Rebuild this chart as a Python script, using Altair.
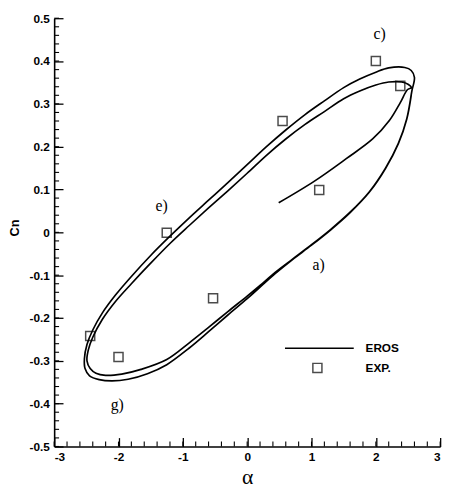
import altair as alt
import pandas as pd

# ---------------- data ----------------
# EROS computed curve, points in drawing order (alpha, Cn)
eros_alpha = [
    # start-up transient
    0.49, 1.04, 1.54, 1.95, 2.21, 2.38, 2.49, 2.55,
    # first cycle, upper branch (right -> left)
    2.50, 2.40, 2.20, 2.00, 1.75, 1.50, 1.20, 0.90, 0.60, 0.30, 0.00, -0.30, -0.60,
    -0.90, -1.20, -1.50, -1.80, -2.05, -2.25, -2.40, -2.47, -2.49,
    # first cycle, lower branch (left -> right)
    -2.44, -2.35, -2.20, -1.95, -1.65, -1.25, -0.90, -0.60, -0.30, 0.00, 0.20, 0.43,
    0.70, 1.00, 1.30, 1.60, 1.90, 2.15, 2.35, 2.48, 2.56,
    # second cycle, upper branch
    2.60, 2.55, 2.45, 2.20, 2.00, 1.75, 1.50, 1.20, 0.90, 0.60, 0.30, 0.00, -0.30,
    -0.60, -0.90, -1.20, -1.50, -1.80, -2.05, -2.25, -2.40, -2.49, -2.53,
    # second cycle, lower branch
    -2.52, -2.45, -2.30, -2.10, -1.85, -1.55, -1.25, -0.90, -0.60, -0.30, 0.00, 0.20,
    0.43, 0.70, 1.00, 1.30, 1.60, 1.90, 2.15, 2.35, 2.48, 2.55,
]
eros_cn = [
    0.069, 0.119, 0.172, 0.218, 0.261, 0.303, 0.333, 0.338,
    0.346, 0.351, 0.351, 0.344, 0.330, 0.312, 0.282, 0.252, 0.218, 0.180, 0.138, 0.097, 0.057,
    0.016, -0.026, -0.072, -0.120, -0.162, -0.203, -0.245, -0.275, -0.300,
    -0.318, -0.329, -0.334, -0.331, -0.320, -0.297, -0.258, -0.222, -0.185, -0.149, -0.124, -0.094,
    -0.063, -0.029, 0.007, 0.047, 0.095, 0.150, 0.208, 0.265, 0.330,
    0.362, 0.378, 0.385, 0.384, 0.374, 0.358, 0.338, 0.307, 0.275, 0.239, 0.200, 0.158, 0.116,
    0.075, 0.034, -0.009, -0.054, -0.103, -0.147, -0.188, -0.228, -0.262, -0.295,
    -0.318, -0.335, -0.344, -0.347, -0.343, -0.330, -0.309, -0.270, -0.232, -0.193, -0.155, -0.128,
    -0.097, -0.064, -0.030, 0.006, 0.046, 0.094, 0.149, 0.207, 0.264, 0.320,
]
# Experimental points
exp_alpha = [2.00, 2.38, 0.55, 1.12, -1.25, -0.53, -2.44, -2.00]
exp_cn = [0.400, 0.342, 0.260, 0.099, -0.001, -0.154, -0.242, -0.291]

# Annotation labels
ann_text = ["a)", "c)", "e)", "g)"]
ann_alpha = [1.11, 2.06, -1.33, -2.02]
ann_cn = [-0.076, 0.463, 0.062, -0.404]

# Axis ticks
x_major = [-3, -2, -1, 0, 1, 2, 3]
x_minor = [round(-3 + 0.2 * k, 1) for k in range(31)]
y_major = [-0.5, -0.4, -0.3, -0.2, -0.1, 0.0, 0.1, 0.2, 0.3, 0.4, 0.5]
y_minor = [round(-0.5 + 0.02 * k, 2) for k in range(51)]

# ---------------- chart ----------------
W, H = 393, 436
xs = alt.Scale(domain=[-3, 3], nice=False, zero=False)
ys = alt.Scale(domain=[-0.5, 0.5], nice=False, zero=False)

x_lab = "replace(format(datum.value, 'd'), '\u2212', '-')"
y_lab = "replace(format(datum.value, '.1~f'), '\u2212', '-')"

LABEL_FONT = dict(labelFont="Liberation Sans", labelFontSize=12, labelFontWeight="bold",
                  labelColor="black")

# main axes: domain line + labels + titles
X_MAIN = alt.Axis(
    orient="bottom", values=x_major, title="α", labelExpr=x_lab, ticks=False,
    domain=True, domainColor="black", domainWidth=1.6, labelPadding=5,
    titleFont="Liberation Serif", titleFontSize=22, titleFontWeight="normal",
    titleColor="black", titlePadding=5, grid=False, **LABEL_FONT,
)
Y_MAIN = alt.Axis(
    orient="left", values=y_major, title="Cn", labelExpr=y_lab, ticks=False,
    domain=True, domainColor="black", domainWidth=1.6, labelPadding=5,
    titleFont="Liberation Sans", titleFontSize=13, titleFontWeight="bold",
    titleColor="black", titleX=-40, titleY=213, titleBaseline="middle",
    grid=False, **LABEL_FONT,
)

def tick_axis(orient, vals, size):
    # inward major ticks: axis shifted into the plot by its tick length
    return alt.Axis(
        orient=orient, values=vals, offset=-size, tickSize=size, tickWidth=1.3,
        tickColor="black", labels=False, domain=False, title=None, grid=False,
    )

df_line = pd.DataFrame({"a": eros_alpha, "cn": eros_cn, "i": list(range(len(eros_alpha)))})
df_exp = pd.DataFrame({"a": exp_alpha, "cn": exp_cn})
df_ann = pd.DataFrame({"t": ann_text, "a": ann_alpha, "cn": ann_cn})

line = alt.Chart(df_line).mark_line(
    color="black", strokeWidth=1.7, interpolate="catmull-rom"
).encode(
    x=alt.X("a:Q", scale=xs, axis=X_MAIN),
    y=alt.Y("cn:Q", scale=ys, axis=Y_MAIN),
    order="i:Q",
)

# invisible carrier for the inward major tick axes
major_ticks = alt.Chart(df_exp).mark_point(opacity=0).encode(
    x=alt.X("a:Q", scale=xs, axis=tick_axis("bottom", x_major, 9)),
    y=alt.Y("cn:Q", scale=ys, axis=tick_axis("left", y_major, 9)),
)

# inward minor ticks drawn as short stroke symbols (path length = sqrt(size)/2 = 5 px)
minor_x = alt.Chart(pd.DataFrame({"v": x_minor})).mark_point(
    shape="M0,0L0,-1", size=100, filled=False, color="black", strokeWidth=1.1, opacity=1
).encode(
    x=alt.X("v:Q", scale=xs, axis=None),
    y=alt.value(H),
)
minor_y = alt.Chart(pd.DataFrame({"v": y_minor})).mark_point(
    shape="M0,0L1,0", size=100, filled=False, color="black", strokeWidth=1.1, opacity=1
).encode(
    y=alt.Y("v:Q", scale=ys, axis=None),
    x=alt.value(0),
)

pts = alt.Chart(df_exp).mark_square(
    filled=False, color="black", size=85, strokeWidth=1.5
).encode(
    x=alt.X("a:Q", scale=xs, axis=None),
    y=alt.Y("cn:Q", scale=ys, axis=None),
)

ann = alt.Chart(df_ann).mark_text(
    font="Liberation Serif", fontSize=16, color="black", align="center", baseline="middle"
).encode(
    x=alt.X("a:Q", scale=xs, axis=None),
    y=alt.Y("cn:Q", scale=ys, axis=None),
    text="t:N",
)

# legend (drawn manually)
leg_line = alt.Chart(pd.DataFrame({"k": ["EROS"]})).mark_rule(
    color="black", strokeWidth=1.6
).encode(x=alt.value(235), x2=alt.value(305), y=alt.value(336))
leg_sq = alt.Chart(pd.DataFrame({"k": ["EXP."]})).mark_square(
    filled=False, color="black", size=85, strokeWidth=1.5
).encode(x=alt.value(268), y=alt.value(356))

def leg_text(label, ypix):
    return alt.Chart(pd.DataFrame({"k": [label]})).mark_text(
        font="Liberation Sans", fontSize=12, fontWeight="bold", color="black",
        align="left", baseline="middle"
    ).encode(x=alt.value(317), y=alt.value(ypix), text="k:N")

chart = alt.layer(
    line, major_ticks, minor_x, minor_y, pts, ann, leg_line, leg_sq,
    leg_text("EROS", 336), leg_text("EXP.", 356)
).resolve_axis(x="independent", y="independent").properties(
    width=W, height=H,
    autosize=alt.AutoSizeParams(type="none"),
    padding={"left": 47, "top": 6, "right": 10, "bottom": 45},
).configure_view(stroke=None)

chart.save("out.html", embed_options={"renderer": "svg", "actions": False})
